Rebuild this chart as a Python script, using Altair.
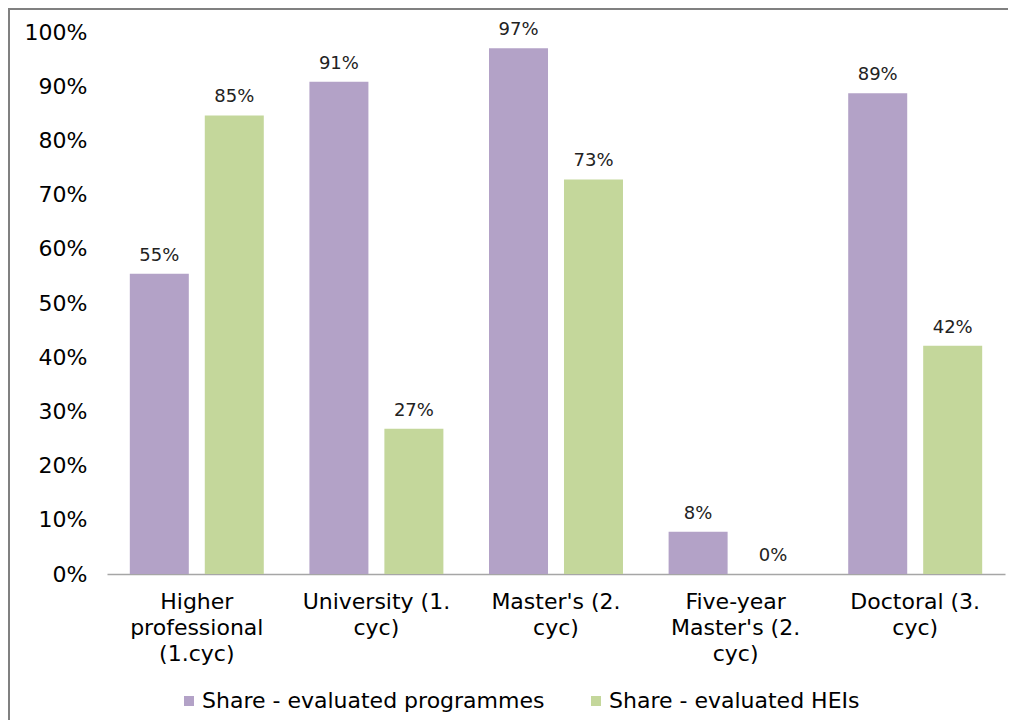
import altair as alt
import pandas as pd

categories = ["Higher\nprofessional\n(1.cyc)", "University (1.\ncyc)", "Master's (2.\ncyc)",
              "Five-year\nMaster's (2.\ncyc)", "Doctoral (3.\ncyc)"]
series = ["Share - evaluated programmes", "Share - evaluated HEIs"]
programmes = [0.554, 0.908, 0.970, 0.078, 0.887]
heis = [0.846, 0.268, 0.728, 0.0, 0.421]
colors = ["#b3a2c7", "#c4d79b"]

rows = []
for c, p, h in zip(categories, programmes, heis):
    rows.append({"cat": c, "series": series[0], "value": p})
    rows.append({"cat": c, "series": series[1], "value": h})
df = pd.DataFrame(rows)

FONT = "DejaVu Sans"
W, H = 898, 542
PAD_L, PAD_T, PAD_R, PAD_B = 99, 24, 3, 146

x = alt.X("cat:N", sort=categories, title=None,
          scale=alt.Scale(paddingInner=0.254, paddingOuter=0.127),
          axis=alt.Axis(labelAngle=0, labelExpr="split(datum.label, '\\n')",
                        labelLineHeight=26, labelFontSize=22, labelFont=FONT,
                        labelColor="#000000", labelPadding=17, ticks=False,
                        domainColor="#a6a6a6", domainWidth=1.5, labelBaseline="top"))
xo = alt.XOffset("series:N", sort=series, scale=alt.Scale(paddingInner=0.213, paddingOuter=0))
y = alt.Y("value:Q", title=None,
          scale=alt.Scale(domain=[0, 1], nice=False),
          axis=alt.Axis(format=".0%", values=[i / 10 for i in range(11)], grid=False,
                        domain=False, ticks=False, labelFontSize=22, labelFont=FONT,
                        labelColor="#000000", labelPadding=20))
color = alt.Color("series:N", sort=series,
                  scale=alt.Scale(domain=series, range=colors),
                  legend=alt.Legend(title=None, orient="none", direction="horizontal",
                                    legendX=71, legendY=658, symbolType="square",
                                    symbolSize=100, symbolStrokeWidth=0, labelLimit=600,
                                    labelFontSize=22, labelFont=FONT, labelColor="#000000",
                                    columnPadding=40, labelOffset=2))

base = alt.Chart(df)
bars = base.mark_bar().encode(x=x, xOffset=xo, y=y, color=color)
labels = base.mark_text(baseline="bottom", dy=-9, fontSize=18, font=FONT, color="#222222").encode(
    x=alt.X("cat:N", sort=categories), xOffset=xo, y="value:Q",
    text=alt.Text("value:Q", format=".0%"))

frame_df = pd.DataFrame({"k": [0]})
top_border = alt.Chart(frame_df).mark_rule(color="#808080", strokeWidth=2).encode(
    x=alt.value(-PAD_L), x2=alt.value(W + PAD_R), y=alt.value(-PAD_T + 1))
left_border = alt.Chart(frame_df).mark_rule(color="#808080", strokeWidth=2).encode(
    x=alt.value(-PAD_L + 1), y=alt.value(-PAD_T), y2=alt.value(H + PAD_B))

chart = alt.layer(bars, labels, top_border, left_border).properties(
    width=W, height=H,
    autosize=alt.AutoSizeParams(type="none"),
    padding={"left": PAD_L, "top": PAD_T, "right": PAD_R, "bottom": PAD_B},
).configure(background="white").configure_view(stroke="transparent", strokeWidth=0)

chart.save("out.html", embed_options={"renderer": "svg", "actions": False})
